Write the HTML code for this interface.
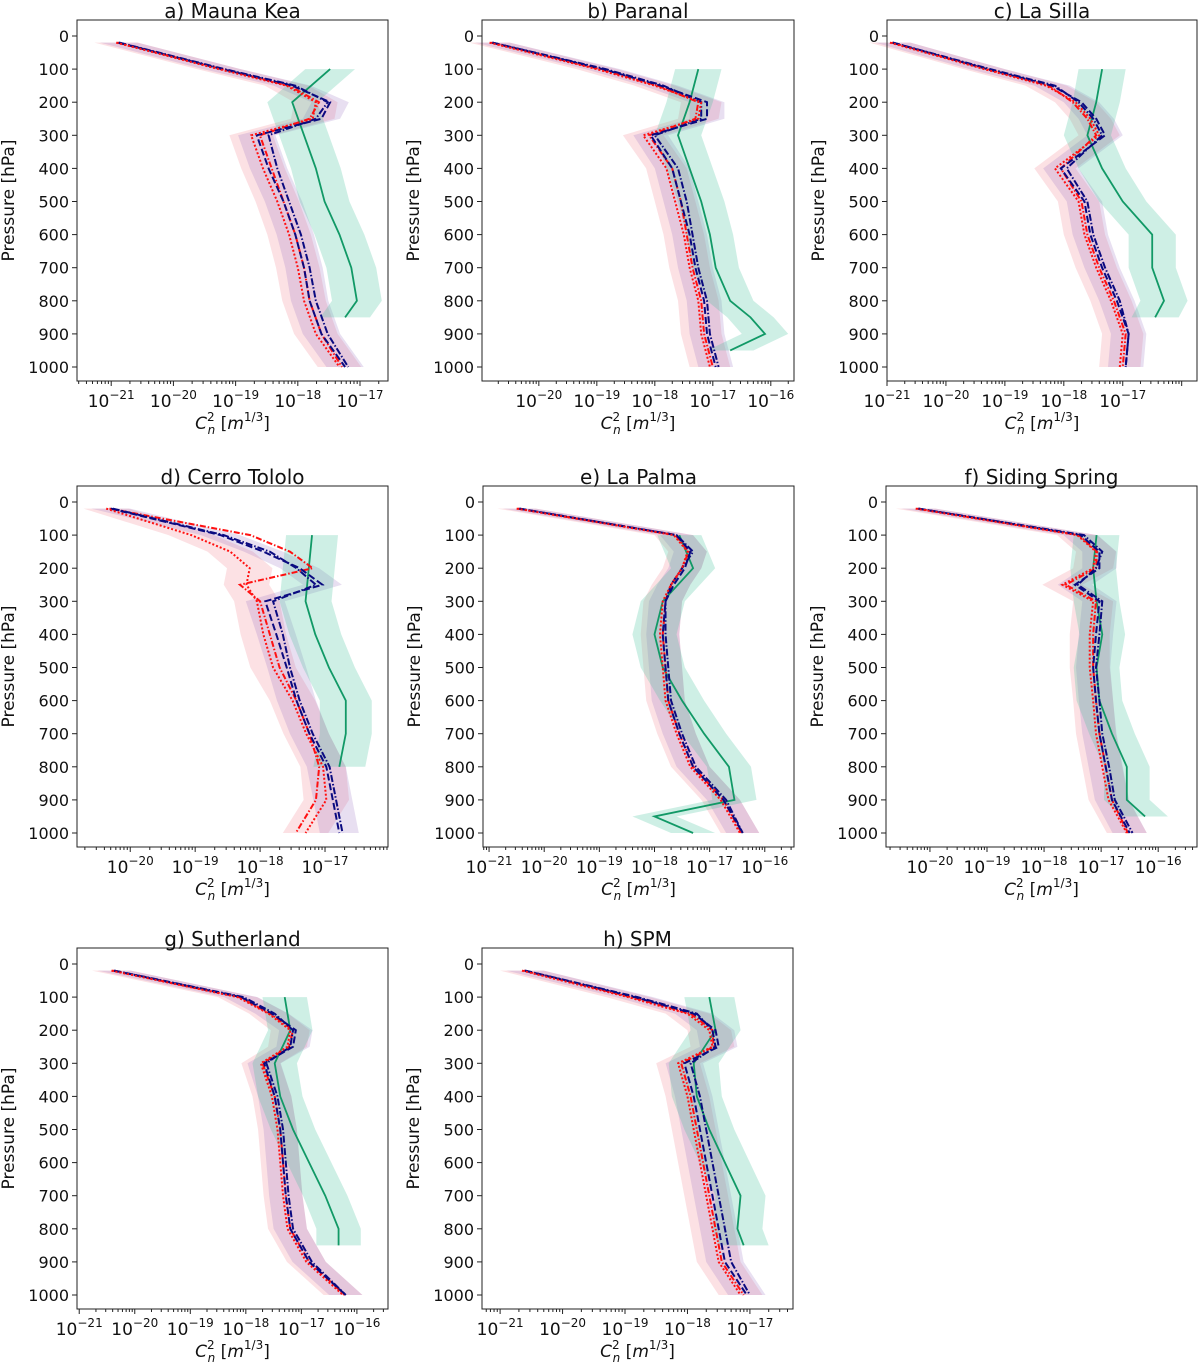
<!DOCTYPE html>
<html><head><meta charset="utf-8">
<style>
body{margin:0;background:#fff;}
svg{display:block;font-family:"DejaVu Sans","Liberation Sans",sans-serif;}
</style></head>
<body>
<svg id="fig" width="1200" height="1363" viewBox="0 0 1200 1363" xmlns="http://www.w3.org/2000/svg"></svg>
<script>
// Pressure levels for model profiles (hPa)
const P = [20,100,150,200,250,300,400,500,600,700,800,900,1000];
// Pressure levels for observed (green) profile
const PG = [100,200,300,400,500,600,700,800,850,900,950,1000];
// Panel titles
const titles = ["a) Mauna Kea","b) Paranal","c) La Silla","d) Cerro Tololo","e) La Palma","f) Siding Spring","g) Sutherland","h) SPM"];
// log10(Cn2) x-limits per panel
const xmins = [-21.55,-20.98,-21.0,-20.82,-21.11,-20.77,-21.04,-21.29];
const xmaxs = [-16.55,-15.6,-15.74,-16.03,-15.47,-15.32,-15.44,-16.31];
// Series values: log10(Cn2)
const navyDash = [
 [-20.88,-19.22,-18.09,-17.48,-17.62,-18.66,-18.47,-18.23,-18.04,-17.9,-17.81,-17.62,-17.24],
 [-20.8,-18.9,-17.9,-17.1,-17.1,-18.07,-17.7,-17.55,-17.4,-17.3,-17.15,-17.1,-16.95],
 [-20.9,-19.3,-18.2,-17.7,-17.45,-17.3,-18.05,-17.65,-17.55,-17.35,-17.1,-16.9,-16.95],
 [-20.3,-18.61,-17.95,-17.39,-17.04,-17.92,-17.75,-17.59,-17.44,-17.24,-16.98,-16.88,-16.78],
 [-20.45,-17.6,-17.35,-17.45,-17.65,-17.8,-17.85,-17.8,-17.75,-17.55,-17.3,-16.75,-16.4],
 [-20.2,-17.36,-17.03,-17.03,-17.46,-17.03,-17.09,-17.14,-17.09,-17.03,-16.92,-16.81,-16.5],
 [-20.37,-18.09,-17.53,-17.1,-17.15,-17.67,-17.48,-17.38,-17.33,-17.28,-17.2,-16.86,-16.2],
 [-20.6,-18.85,-17.9,-17.55,-17.5,-18.05,-17.9,-17.8,-17.7,-17.6,-17.5,-17.4,-17.05]];
const navyDashDot = [
 [-20.87,-19.18,-18.04,-17.52,-17.71,-18.47,-18.33,-18.14,-17.95,-17.81,-17.71,-17.52,-17.19],
 [-20.8,-18.85,-17.85,-17.2,-17.2,-18.0,-17.6,-17.45,-17.35,-17.25,-17.1,-17.05,-16.9],
 [-20.9,-19.25,-18.15,-17.75,-17.5,-17.35,-17.95,-17.6,-17.5,-17.3,-17.05,-16.9,-16.95],
 [-20.27,-18.56,-17.85,-17.44,-17.14,-17.8,-17.65,-17.54,-17.39,-17.19,-16.93,-16.83,-16.73],
 [-20.45,-17.6,-17.3,-17.5,-17.7,-17.8,-17.8,-17.75,-17.7,-17.5,-17.25,-16.7,-16.4],
 [-20.2,-17.3,-16.98,-17.09,-17.41,-16.98,-17.03,-17.09,-17.03,-16.98,-16.86,-16.76,-16.45],
 [-20.37,-18.04,-17.48,-17.15,-17.2,-17.63,-17.43,-17.33,-17.28,-17.23,-17.15,-16.81,-16.2],
 [-20.6,-18.8,-17.85,-17.6,-17.55,-17.95,-17.8,-17.7,-17.6,-17.5,-17.4,-17.3,-17.0]];
const redDot = [
 [-20.92,-19.27,-18.18,-17.71,-17.76,-18.75,-18.56,-18.33,-18.14,-18.0,-17.9,-17.71,-17.33],
 [-20.85,-19.0,-18.0,-17.2,-17.25,-18.2,-17.8,-17.65,-17.5,-17.4,-17.25,-17.2,-17.05],
 [-20.95,-19.35,-18.3,-17.8,-17.55,-17.4,-18.15,-17.75,-17.65,-17.45,-17.2,-17.0,-17.05],
 [-20.37,-19.06,-18.46,-18.16,-18.21,-18.05,-17.95,-17.8,-17.5,-17.29,-17.03,-16.98,-17.3],
 [-20.5,-17.65,-17.4,-17.5,-17.7,-17.85,-17.9,-17.85,-17.8,-17.6,-17.35,-16.8,-16.45],
 [-20.25,-17.42,-17.09,-17.14,-17.68,-17.14,-17.2,-17.2,-17.14,-17.09,-16.98,-16.87,-16.55],
 [-20.42,-18.15,-17.59,-17.2,-17.25,-17.73,-17.53,-17.43,-17.38,-17.33,-17.25,-16.91,-16.25],
 [-20.65,-18.95,-18.0,-17.65,-17.6,-18.15,-18.0,-17.9,-17.8,-17.7,-17.6,-17.5,-17.15]];
const redDashDot = [
 [-20.9,-19.22,-18.14,-17.66,-17.81,-18.61,-18.42,-18.23,-18.04,-17.9,-17.81,-17.62,-17.29],
 [-20.82,-18.95,-17.95,-17.25,-17.3,-18.1,-17.7,-17.55,-17.45,-17.35,-17.2,-17.15,-17.0],
 [-20.92,-19.3,-18.25,-17.85,-17.6,-17.45,-18.05,-17.7,-17.6,-17.4,-17.15,-16.95,-17.0],
 [-20.32,-18.15,-17.54,-17.19,-18.31,-18.0,-17.85,-17.7,-17.44,-17.24,-17.09,-17.14,-17.45],
 [-20.48,-17.62,-17.38,-17.5,-17.7,-17.8,-17.85,-17.8,-17.75,-17.55,-17.3,-16.75,-16.42],
 [-20.22,-17.39,-17.07,-17.09,-17.62,-17.09,-17.14,-17.14,-17.09,-17.03,-16.92,-16.81,-16.53],
 [-20.4,-18.12,-17.56,-17.15,-17.22,-17.7,-17.48,-17.38,-17.33,-17.28,-17.2,-16.86,-16.22],
 [-20.62,-18.9,-17.95,-17.6,-17.58,-18.1,-17.95,-17.85,-17.75,-17.65,-17.55,-17.45,-17.1]];
const green = [
 [-17.48,-18.09,-17.9,-17.71,-17.57,-17.33,-17.14,-17.05,-17.24,null,null,null],
 [-17.25,-17.4,-17.6,-17.4,-17.2,-17.05,-16.95,-16.7,-16.35,-16.1,-16.7,null],
 [-17.35,-17.45,-17.6,-17.35,-17.0,-16.5,-16.5,-16.3,-16.45,null,null,null],
 [-17.2,-17.25,-17.3,-17.15,-16.94,-16.68,-16.68,-16.78,null,null,null,null],
 [-17.55,-17.3,-17.85,-18.0,-17.85,-17.5,-17.1,-16.65,-16.6,-16.55,-18.0,-17.3],
 [-17.08,-17.14,-17.08,-16.98,-17.08,-17.03,-16.81,-16.55,-16.55,-16.55,-16.23,null],
 [-17.3,-17.2,-17.48,-17.38,-17.15,-16.86,-16.57,-16.33,-16.33,null,null,null],
 [-17.65,-17.55,-17.9,-17.85,-17.65,-17.4,-17.15,-17.2,-17.1,null,null,null]];
const yTicks = [0,100,200,300,400,500,600,700,800,900,1000];

const NS="http://www.w3.org/2000/svg";
const svg=document.getElementById('fig');
function mk(tag,attrs,parent){const e=document.createElementNS(NS,tag);for(const k in attrs)e.setAttribute(k,attrs[k]);(parent||svg).appendChild(e);return e;}
const boxes=[[77,20,311],[482,20,312],[887,20,310],[77,486,311],[483,486,311],[886,486,311],[77,948,311],[482,948,311]];
const H=361;

boxes.forEach((b,i)=>{
  const [L,T,W]=b;
  const g=mk('g',{});
  
  
  const xs=v=>L+(v-xmins[i])/(xmaxs[i]-xmins[i])*W;
  const ys=p=>T+16+p*0.331;
  function band(vals,lev,d,col,name){
    const pts=[];const bk=[];
    vals.forEach((v,j)=>{if(v!==null){pts.push(xs(v+d)+','+ys(lev[j]));bk.unshift(xs(v-d)+','+ys(lev[j]));}});
    const pg=mk('polygon',{points:pts.concat(bk).join(' '),fill:col,stroke:'none'},g);
    
    
  }
  band(redDot[i],P,0.35,'rgba(240,120,130,0.22)','red-band');
  band(navyDash[i],P,0.3,'rgba(150,110,190,0.22)','navy-band');
  band(green[i],PG,0.4,'rgba(60,190,150,0.25)','green-band');
  function line(vals,lev,col,dash,name,w){
    const pts=[];vals.forEach((v,j)=>{if(v!==null)pts.push(xs(v)+','+ys(lev[j]));});
    const pl=mk('polyline',{points:pts.join(' '),fill:'none',stroke:col,'stroke-width':w||2,'stroke-dasharray':dash},g);
    
    
  }
  line(green[i],PG,'#119966','none','green-line',1.8);
  line(redDashDot[i],P,'#ff1010','6,2,1.5,2','red-dashdot-line');
  line(navyDash[i],P,'#0a0a80','7,3','navy-dashed-line');
  line(navyDashDot[i],P,'#0a0a80','7,2,1.5,2','navy-dashdot-line');
  line(redDot[i],P,'#ff1010','2,2','red-dotted-line');
  const fr=mk('rect',{x:L,y:T,width:W,height:H,fill:'none',stroke:'#222','stroke-width':1},g);
  
  
  const tt=mk('text',{x:L+W/2,y:T-2,'text-anchor':'middle','font-size':20,fill:'#111'},g);
  tt.textContent=titles[i];
  
  
  yTicks.forEach(p=>{
    mk('line',{x1:L-5,x2:L,y1:ys(p),y2:ys(p),stroke:'#222'},g);
    const t=mk('text',{x:L-8,y:ys(p)+6,'text-anchor':'end','font-size':16,fill:'#111'},g);
    t.textContent=p;
    
    
  });
  const yl=mk('text',{x:0,y:0,transform:`translate(${L-63},${T+H/2}) rotate(-90)`,'text-anchor':'middle','font-size':17,fill:'#111'},g);
  yl.textContent='Pressure [hPa]';
  
  
  const B=T+H;
  for(let d=Math.floor(xmins[i]);d<=Math.ceil(xmaxs[i]);d++){
    for(let m=1;m<10;m++){
      const v=d+Math.log10(m);
      if(v<xmins[i]||v>xmaxs[i])continue;
      mk('line',{x1:xs(v),x2:xs(v),y1:B,y2:B+(m===1?5:3),stroke:'#222'},g);
      if(m===1 && xs(v) < L+W-20){
        const t=mk('text',{x:xs(v),y:B+26,'text-anchor':'middle','font-size':17,fill:'#111'},g);
        
        
        t.textContent='10';
        const s=mk('tspan',{dy:-8,'font-size':12},t);s.textContent='\u2212'+(-d);
      }
    }
  }
  const xl=mk('text',{x:L+W/2,y:B+48,'text-anchor':'middle','font-size':17,fill:'#111'},g);
  
  
  xl.innerHTML='<tspan font-style="italic">C</tspan><tspan font-size="12" dy="-8">2</tspan><tspan font-size="12" font-style="italic" dx="-7" dy="13">n</tspan><tspan dy="-5"> [</tspan><tspan font-style="italic">m</tspan><tspan font-size="12" dy="-8">1/3</tspan><tspan dy="8">]</tspan>';
});
</script>
</body></html>
